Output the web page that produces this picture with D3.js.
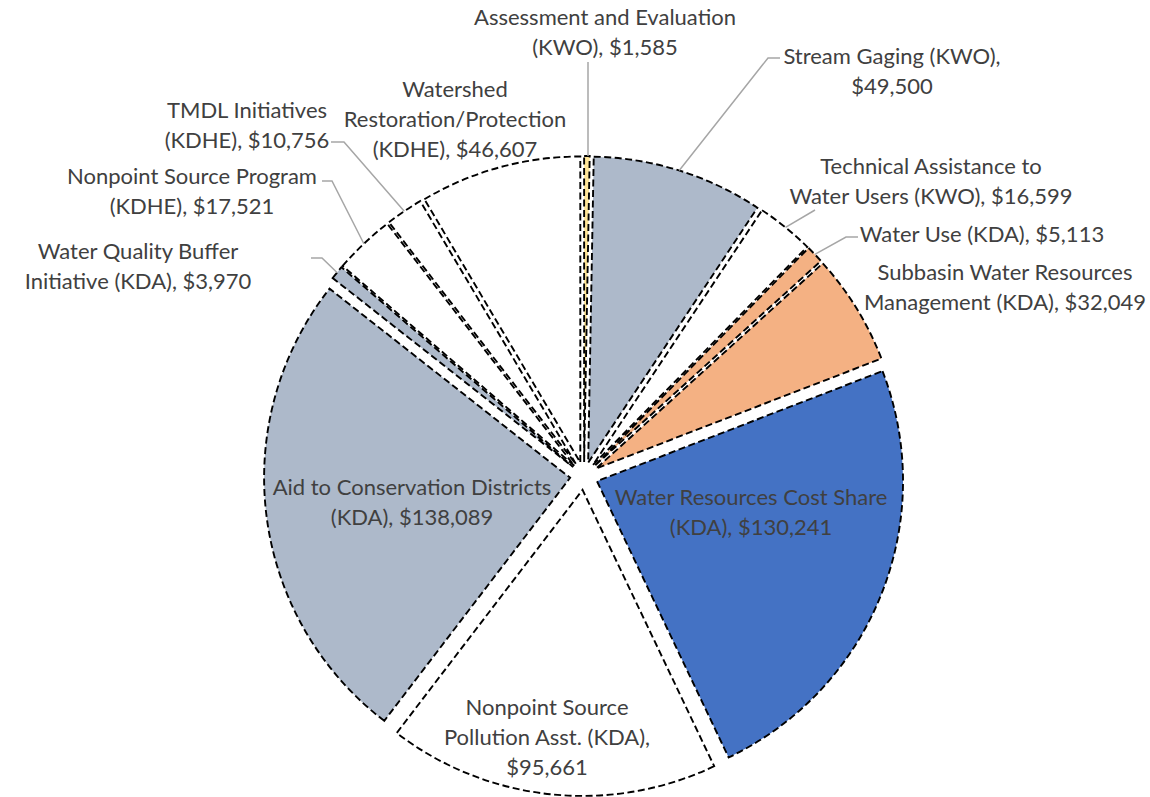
<!DOCTYPE html>
<html>
<head>
<meta charset="utf-8">
<script src="https://cdn.jsdelivr.net/npm/d3@7"></script>
<style>
  html, body { margin: 0; padding: 0; background: #fff; }
  svg { display: block; }
</style>
</head>
<body>
<svg id="chart" width="1150" height="797"></svg>
<script>
// ---- data ----
const categories = [
  "Assessment and Evaluation (KWO)",
  "Stream Gaging (KWO)",
  "Technical Assistance to Water Users (KWO)",
  "Water Use (KDA)",
  "Subbasin Water Resources Management (KDA)",
  "Water Resources Cost Share (KDA)",
  "Nonpoint Source Pollution Asst. (KDA)",
  "Aid to Conservation Districts (KDA)",
  "Water Quality Buffer Initiative (KDA)",
  "Nonpoint Source Program (KDHE)",
  "TMDL Initiatives (KDHE)",
  "Watershed Restoration/Protection (KDHE)"
];
const values = [1585, 49500, 16599, 5113, 32049, 130241, 95661, 138089, 3970, 17521, 10756, 46607];
const colors = ["#FFE699", "#ADB9CA", "#FFFFFF", "#F4B183", "#F4B183", "#4472C4",
                "#FFFFFF", "#ADB9CA", "#ADB9CA", "#FFFFFF", "#FFFFFF", "#FFFFFF"];

// ---- layout ----
const cx = 584, cy = 476, R = 306, explode = 14;
const lineH = 30;
// words per label line
const breaks = [[3,2],[3,1],[3,4],[4],[3,3],[4,2],[2,3,1],[4,2],[3,3],[3,2],[2,2],[1,1,2]];
// label centre x and first line centre y
const labelPos = [[605,17],[892,56],[931,166],[982,234],[1005,272],[751,497],
                  [547,707],[412,487],[138,251],[192,176],[247,110],[455,89]];
// leader start points (null = no leader); vertical / elbow paths
const leaders = [
  [[588,62]],
  [[780,58],[768,58]],
  [[815,210]],
  [[858,237],[846,237]],
  null, null, null, null,
  [[311,258],[322,258]],
  [[322,181],[332,181]],
  [[331,142],[344,142]],
  null
];

const svg = d3.select("#chart");
const fmt = d3.format(",");

const pie = d3.pie().sort(null).value(d => d).startAngle(0).endAngle(2 * Math.PI);
const arcs = pie(values);
const arc = d3.arc().innerRadius(0).outerRadius(R);

const g = svg.append("g").attr("transform", `translate(${cx},${cy})`);

function offset(d) {
  const m = (d.startAngle + d.endAngle) / 2;
  return [Math.sin(m) * explode, -Math.cos(m) * explode];
}

g.selectAll("path.slice")
  .data(arcs)
  .join("path")
  .attr("class", "slice")
  .attr("transform", d => { const o = offset(d); return `translate(${o[0]},${o[1]})`; })
  .attr("d", arc)
  .attr("fill", (d, i) => colors[i])
  .attr("stroke", "#000")
  .attr("stroke-width", 1.9)
  .attr("stroke-dasharray", "7,3.5")
  .attr("stroke-linejoin", "miter");

// leader lines
arcs.forEach((d, i) => {
  const L = leaders[i];
  if (!L) return;
  const m = (d.startAngle + d.endAngle) / 2;
  const o = offset(d);
  const end = [cx + o[0] + Math.sin(m) * R, cy + o[1] - Math.cos(m) * R];
  let pts = L.slice();
  if (i === 0) pts = [L[0], [L[0][0], end[1]]];
  else pts.push(end);
  svg.append("path")
    .attr("d", d3.line()(pts))
    .attr("fill", "none")
    .attr("stroke", "#A6A6A6")
    .attr("stroke-width", 1.5);
});

// labels
categories.forEach((c, i) => {
  const words = (c + ", $" + fmt(values[i])).split(" ");
  const lines = [];
  let k = 0;
  breaks[i].forEach(n => { lines.push(words.slice(k, k + n).join(" ")); k += n; });
  const t = svg.append("text")
    .attr("text-anchor", "middle")
    .attr("font-family", "Lato, 'Open Sans', sans-serif")
    .attr("font-size", 22)
    .attr("fill", "#404040");
  lines.forEach((ln, j) => {
    t.append("tspan")
      .attr("x", labelPos[i][0])
      .attr("y", labelPos[i][1] + j * lineH)
      .attr("dy", "0.35em")
      .text(ln);
  });
});
</script>
</body>
</html>
